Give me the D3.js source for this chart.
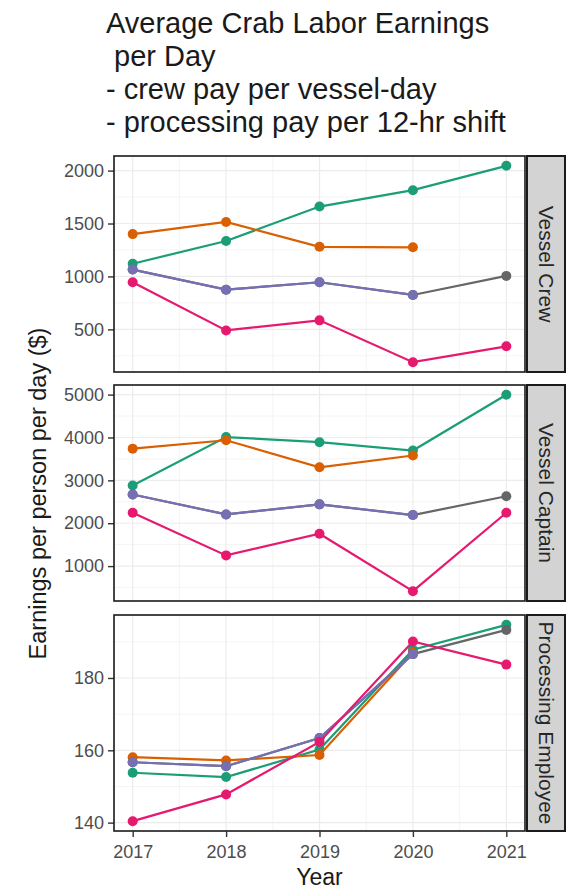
<!DOCTYPE html>
<html>
<head>
<meta charset="utf-8">
<script src="https://cdn.jsdelivr.net/npm/d3@7"></script>
<style>
  html, body { margin: 0; padding: 0; background: #ffffff; }
  svg { display: block; font-family: "Liberation Sans", Arial, sans-serif; }
</style>
</head>
<body>
<svg id="chart" width="568" height="892"></svg>
<script>
// ---------------- data ----------------
const years = [2017, 2018, 2019, 2020, 2021];
const facets = ["Vessel Crew", "Vessel Captain", "Processing Employee"];
const titleLines = ["Average Crab Labor Earnings", " per Day", "- crew pay per vessel-day", "- processing pay per 12-hr shift"];
const yTitle = "Earnings per person per day ($)";
const xTitle = "Year";

const crewTicks = [500, 1000, 1500, 2000];
const captainTicks = [1000, 2000, 3000, 4000, 5000];
const processingTicks = [140, 160, 180];

const crewGreen  = [1120, 1335, 1660, 1815, 2045];
const crewOrange = [1400, 1515, 1280, 1275, null];
const crewGray   = [1065, 875, 945, 825, 1005];
const crewPurple = [1065, 875, 945, 825, null];
const crewPink   = [945, 490, 585, 190, 340];

const captainGreen  = [2880, 4010, 3890, 3695, 4995];
const captainOrange = [3740, 3935, 3305, 3580, null];
const captainGray   = [2670, 2205, 2440, 2190, 2630];
const captainPurple = [2670, 2205, 2440, 2190, null];
const captainPink   = [2245, 1250, 1755, 415, 2245];

const procGreen  = [153.8, 152.6, 160.2, 187.8, 194.7];
const procOrange = [158.1, 157.2, 158.7, 187.0, null];
const procGray   = [156.7, 155.6, 163.4, 186.6, 193.3];
const procPurple = [156.7, 155.6, 163.4, 186.6, null];
const procPink   = [140.4, 147.8, 162.3, 190.1, 183.7];

const seriesColors = ["#1B9E77", "#D95F02", "#666666", "#7570B3", "#E6196E"];

const panelData = [
  { name: facets[0], ticks: crewTicks, series: [crewGreen, crewOrange, crewGray, crewPurple, crewPink] },
  { name: facets[1], ticks: captainTicks, series: [captainGreen, captainOrange, captainGray, captainPurple, captainPink] },
  { name: facets[2], ticks: processingTicks, series: [procGreen, procOrange, procGray, procPurple, procPink] }
];

// ---------------- layout ----------------
const svg = d3.select("#chart");
const left = 114, right = 525;
const stripX = 527, stripW = 38;
const panelTops = [156, 385, 615];
const panelH = 216;
const tickFont = 18;

const x = d3.scaleLinear()
  .domain([years[0] - 0.2, years[years.length - 1] + 0.2])
  .range([left, right]);

// title
const title = svg.append("g");
titleLines.forEach((t, i) => {
  title.append("text")
    .attr("x", 106)
    .attr("y", 33 + i * 33)
    .attr("font-size", 29)
    .attr("fill", "#1a1a1a")
    .attr("xml:space", "preserve")
    .style("white-space", "pre")
    .text(t);
});

panelData.forEach((p, pi) => {
  const top = panelTops[pi];
  const bottom = top + panelH;
  const vals = p.series.flat().filter(v => v != null);
  const mn = d3.min(vals), mx = d3.max(vals);
  const pad = (mx - mn) * 0.05;
  const y = d3.scaleLinear().domain([mn - pad, mx + pad]).range([bottom, top]);

  const g = svg.append("g");

  g.append("rect").attr("x", left).attr("y", top).attr("width", right - left).attr("height", panelH).attr("fill", "#ffffff");

  // minor grid
  const minorY = [];
  for (let i = 0; i < p.ticks.length - 1; i++) minorY.push((p.ticks[i] + p.ticks[i + 1]) / 2);
  const step = p.ticks[1] - p.ticks[0];
  minorY.push(p.ticks[0] - step / 2, p.ticks[p.ticks.length - 1] + step / 2);
  g.selectAll(".minory").data(minorY.filter(v => y(v) > top && y(v) < bottom)).enter().append("line")
    .attr("x1", left).attr("x2", right).attr("y1", d => y(d)).attr("y2", d => y(d))
    .attr("stroke", "#f4f4f4").attr("stroke-width", 1);
  const minorX = years.slice(0, -1).map(v => v + 0.5);
  g.selectAll(".minorx").data(minorX).enter().append("line")
    .attr("y1", top).attr("y2", bottom).attr("x1", d => x(d)).attr("x2", d => x(d))
    .attr("stroke", "#f4f4f4").attr("stroke-width", 1);

  // major grid
  g.selectAll(".majory").data(p.ticks).enter().append("line")
    .attr("x1", left).attr("x2", right).attr("y1", d => y(d)).attr("y2", d => y(d))
    .attr("stroke", "#ececec").attr("stroke-width", 1.2);
  g.selectAll(".majorx").data(years).enter().append("line")
    .attr("y1", top).attr("y2", bottom).attr("x1", d => x(d)).attr("x2", d => x(d))
    .attr("stroke", "#ececec").attr("stroke-width", 1.2);

  // y axis
  const yAxis = d3.axisLeft(y).tickValues(p.ticks).tickSize(6).tickPadding(4).tickFormat(d3.format("d"));
  const ya = g.append("g").attr("transform", `translate(${left},0)`).call(yAxis);
  ya.select(".domain").remove();
  ya.selectAll(".tick line").attr("stroke", "#333333").attr("stroke-width", 1.4);
  ya.selectAll(".tick text").attr("font-size", tickFont).attr("fill", "#4d4d4d")
    .attr("font-family", "Liberation Sans, Arial, sans-serif");

  // lines and points
  const line = d3.line()
    .defined(d => d[1] != null)
    .x(d => x(d[0])).y(d => y(d[1]));
  p.series.forEach((s, si) => {
    const pts = years.map((yr, i) => [yr, s[i]]);
    g.append("path").datum(pts).attr("d", line)
      .attr("fill", "none").attr("stroke", seriesColors[si]).attr("stroke-width", 2.2);
    g.selectAll(".pt" + si).data(pts.filter(d => d[1] != null)).enter().append("circle")
      .attr("cx", d => x(d[0])).attr("cy", d => y(d[1])).attr("r", 5)
      .attr("fill", seriesColors[si]);
  });

  // panel border
  g.append("rect").attr("x", left).attr("y", top).attr("width", right - left).attr("height", panelH)
    .attr("fill", "none").attr("stroke", "#1a1a1a").attr("stroke-width", 1.6);

  // strip
  g.append("rect").attr("x", stripX).attr("y", top).attr("width", stripW).attr("height", panelH)
    .attr("fill", "#d3d3d3").attr("stroke", "#1a1a1a").attr("stroke-width", 2);
  g.append("text")
    .attr("transform", `translate(${stripX + stripW / 2},${top + panelH / 2}) rotate(90)`)
    .attr("text-anchor", "middle").attr("dominant-baseline", "central")
    .attr("font-size", 21).attr("fill", "#262626")
    .text(p.name);

  // x axis on bottom panel
  if (pi === panelData.length - 1) {
    const xAxis = d3.axisBottom(x).tickValues(years).tickSize(6).tickPadding(8).tickFormat(d3.format("d"));
    const xa = g.append("g").attr("transform", `translate(0,${bottom})`).call(xAxis);
    xa.select(".domain").remove();
    xa.selectAll(".tick line").attr("stroke", "#333333").attr("stroke-width", 1.4);
    xa.selectAll(".tick text").attr("font-size", tickFont).attr("fill", "#4d4d4d")
      .attr("font-family", "Liberation Sans, Arial, sans-serif");
  }
});

// axis titles
svg.append("text")
  .attr("x", (left + right) / 2).attr("y", 885)
  .attr("text-anchor", "middle").attr("font-size", 23).attr("fill", "#1a1a1a")
  .text(xTitle);
svg.append("text")
  .attr("transform", `translate(46,${(panelTops[0] + panelTops[2] + panelH) / 2}) rotate(-90)`)
  .attr("text-anchor", "middle").attr("font-size", 23.5).attr("fill", "#1a1a1a")
  .text(yTitle);
</script>
</body>
</html>
